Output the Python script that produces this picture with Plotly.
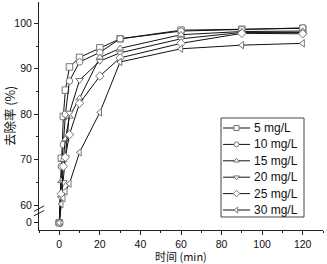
import plotly.graph_objects as go

# ---- data ----
time_min = [0, 1, 2, 3, 5, 10, 20, 30, 60, 90, 120]
series_names = ["5 mg/L", "10 mg/L", "15 mg/L", "20 mg/L", "25 mg/L", "30 mg/L"]
r5 = [0, 70.3, 79.5, 85.3, 90.4, 92.5, 94.6, 96.6, 98.5, 98.7, 98.9]
r10 = [0, 68.5, 73.3, 80.0, 87.3, 91.5, 93.6, 96.6, 98.3, 98.6, 99.0]
r15 = [0, 65.3, 70.0, 74.5, 79.5, 83.5, 92.5, 94.5, 97.5, 98.2, 98.3]
r20 = [0, 61.5, 65.0, 70.5, 80.3, 87.5, 91.7, 93.5, 96.6, 98.0, 98.0]
r25 = [0, 62.5, 68.5, 70.5, 75.5, 82.4, 88.4, 92.4, 95.6, 97.8, 97.7]
r30 = [0, 60.2, 61.5, 63.0, 64.7, 71.6, 80.4, 91.5, 94.4, 95.2, 95.6]
symbols = ["square", "circle", "triangle-up", "triangle-down", "diamond", "triangle-left"]
y_tick_vals = [0, 60, 70, 80, 90, 100]
x_tick_vals = [0, 20, 40, 60, 80, 100, 120]
x_title = "时间 (min)"
y_title = "去除率 (%)"

# ---- broken y axis mapping (0 shown just below the break) ----
BREAK = 60
ZERO_POS = 56.1


def ymap(v):
    return v if v >= BREAK else ZERO_POS + v


W, H = 327, 264
ML, MR, MT, MB = 39, 4, 2, 34
PW, PH = W - ML - MR, H - MT - MB


def px(X):
    return (X - ML) / PW


def py(Y):
    return 1 - (Y - MT) / PH


LINE_C = "#111111"
MARK_C = "#777777"
CJK = "Noto Sans CJK SC, Liberation Sans"

fig = go.Figure()
all_vals = [r5, r10, r15, r20, r25, r30]
for name, vals, sym in zip(series_names, all_vals, symbols):
    fig.add_trace(go.Scatter(
        x=time_min, y=[ymap(v) for v in vals], name=name, mode="lines+markers",
        line=dict(color=LINE_C, width=1), showlegend=False,
        marker=dict(symbol=sym, size=6.5, color="white",
                    line=dict(color=MARK_C, width=1)),
    ))

# ---- hand-built legend (compact row spacing) ----
LEG_L, LEG_R, LEG_T, LEG_B = 221, 304, 118, 217
ROW0, ROW_DY = 128, 16.4
fig.add_shape(type="rect", xref="paper", yref="paper",
              x0=px(LEG_L), x1=px(LEG_R), y0=py(LEG_B), y1=py(LEG_T),
              line=dict(color="#444444", width=1), fillcolor="white", layer="below")
for i, name in enumerate(series_names):
    yy = py(ROW0 + i * ROW_DY)
    fig.add_shape(type="line", xref="paper", yref="paper",
                  x0=px(223), x1=px(250), y0=yy, y1=yy,
                  line=dict(color=LINE_C, width=1), layer="below")
    fig.add_annotation(x=px(252), y=yy, xref="paper", yref="paper", text=name,
                       showarrow=False, xanchor="left", yanchor="middle",
                       font=dict(size=12, family="Liberation Sans, Arial", color="#111111"))
fig.add_trace(go.Scatter(
    x=[px(236.5)] * len(symbols), y=[py(ROW0 + i * ROW_DY) for i in range(len(symbols))],
    xaxis="x2", yaxis="y2", mode="markers", showlegend=False, hoverinfo="skip",
    marker=dict(symbol=symbols, size=5, color="white", line=dict(color=MARK_C, width=1)),
))

# x axis title as annotation (placed just below tick labels)
fig.add_annotation(x=px(181), y=py(256), xref="paper", yref="paper", text=x_title,
                   showarrow=False, xanchor="center", yanchor="middle", borderpad=0,
                   font=dict(family=CJK, size=11, color="#111111"))

fig.update_layout(
    width=W, height=H,
    margin=dict(l=ML, r=MR, t=MT, b=MB),
    paper_bgcolor="white", plot_bgcolor="white",
    font=dict(family="Liberation Sans, Arial", size=10.5, color="#111111"),
    showlegend=False,
    xaxis=dict(
        range=[-10, 130], tickvals=x_tick_vals, ticks="outside", ticklen=4,
        tickcolor="#222", showline=True, linecolor="#222", linewidth=1,
        showgrid=False, zeroline=False, automargin=False,
        minor=dict(dtick=10, tick0=0, ticks="outside", ticklen=2, tickcolor="#222"),
    ),
    yaxis=dict(
        range=[54.5, 104.7], tickvals=[ymap(v) for v in y_tick_vals],
        ticktext=[str(v) for v in y_tick_vals],
        ticks="outside", ticklen=4, tickcolor="#222",
        showline=True, linecolor="#222", linewidth=1,
        showgrid=False, zeroline=False, automargin=False,
        minor=dict(tickvals=[65, 75, 85, 95], ticks="outside", ticklen=2, tickcolor="#222"),
        title=dict(text=y_title, font=dict(family=CJK, size=12.5), standoff=4),
    ),
    xaxis2=dict(range=[0, 1], overlaying="x", visible=False, anchor="y2"),
    yaxis2=dict(range=[0, 1], overlaying="y", visible=False, anchor="x2"),
)

# axis break marks
for dy in [0.0, 1.0]:
    fig.add_shape(type="line", xref="paper", yref="y",
                  x0=-0.018, x1=0.018, y0=57.6 + dy, y1=58.8 + dy,
                  line=dict(color="#222", width=1))

fig.write_html("out.html", config={"displayModeBar": False},
               post_script="document.body.style.margin='0';")
